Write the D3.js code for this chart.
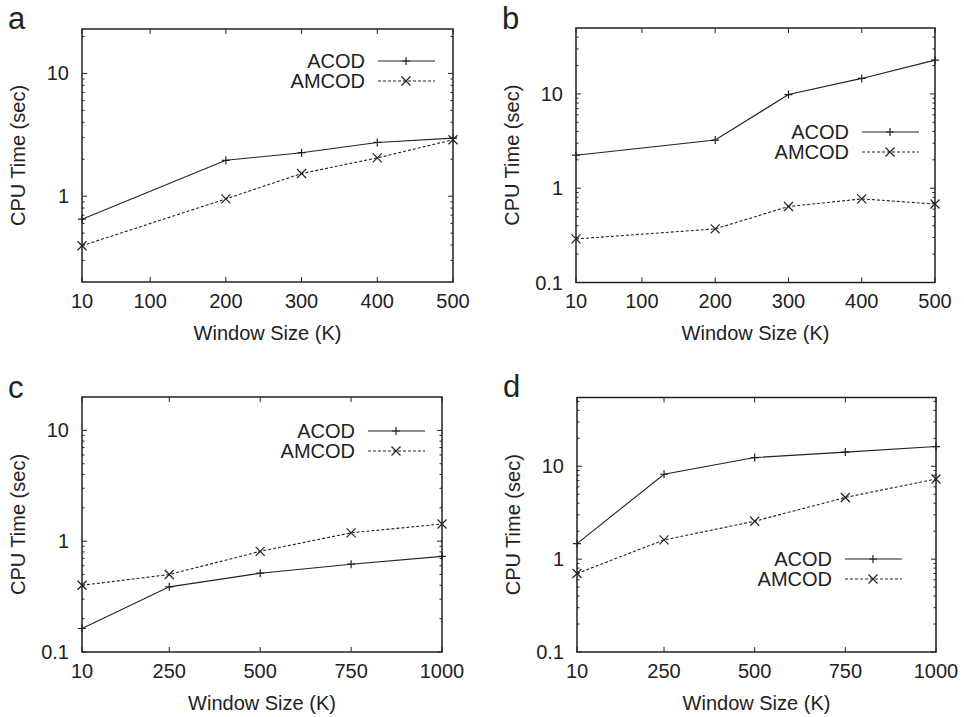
<!DOCTYPE html>
<html>
<head>
<meta charset="utf-8">
<script src="https://cdn.jsdelivr.net/npm/d3@7"></script>
<style>
  html, body { margin: 0; padding: 0; background: #fff; }
  svg text { font-family: "Liberation Sans", Arial, sans-serif; fill: #222; }
</style>
</head>
<body>
<div id="chart"></div>
<script>
// window sizes (K)
const sizesSmall = [10, 200, 300, 400, 500]
const sizesLarge = [10, 250, 500, 750, 1000]
const ticksSmall = [10, 100, 200, 300, 400, 500]
const ticksLarge = [10, 250, 500, 750, 1000]

// CPU time (sec)
const acodA = [0.65, 1.96, 2.26, 2.74, 2.97]
const amcodA = [0.395, 0.95, 1.53, 2.05, 2.88]
const acodB = [2.24, 3.24, 9.84, 14.6, 22.8]
const amcodB = [0.29, 0.37, 0.64, 0.77, 0.68]
const acodC = [0.163, 0.387, 0.514, 0.62, 0.73]
const amcodC = [0.40, 0.50, 0.81, 1.19, 1.43]
const acodD = [1.47, 8.2, 12.4, 14.2, 16.3]
const amcodD = [0.70, 1.61, 2.56, 4.61, 7.29]

const seriesNames = ['ACOD', 'AMCOD']
const panelLetters = ['a', 'b', 'c', 'd']
const yDomains = [[0.2, 23], [0.1, 50], [0.1, 20], [0.1, 55]]
const yLabels = [[1, 10], [0.1, 1, 10], [0.1, 1, 10], [0.1, 1, 10]]

// layout for each panel (plot box + legend spot)
const layout = [
  { x0: 82, x1: 453, y0: 29, y1: 282, legX: 365, legY: 61, letterY: 28.5 },
  { x0: 576, x1: 935, y0: 28, y1: 282.5, legX: 849, legY: 132, letterY: 28.5 },
  { x0: 82, x1: 442, y0: 397, y1: 652, legX: 355, legY: 431, letterY: 397.5 },
  { x0: 577, x1: 936, y0: 397.5, y1: 652, legX: 832, legY: 559, letterY: 397 },
]

const panels = [
  { sizes: sizesSmall, ticks: ticksSmall, series: [acodA, amcodA] },
  { sizes: sizesSmall, ticks: ticksSmall, series: [acodB, amcodB] },
  { sizes: sizesLarge, ticks: ticksLarge, series: [acodC, amcodC] },
  { sizes: sizesLarge, ticks: ticksLarge, series: [acodD, amcodD] },
]

const width = 964
const height = 717
const ink = '#222'

const svg = d3.select('#chart').append('svg')
  .attr('width', width)
  .attr('height', height)

function drawMarker(g, kind, cx, cy) {
  const s = kind === 0 ? 4 : 4.5
  const path = kind === 0
    ? `M${cx - s},${cy}H${cx + s}M${cx},${cy - s}V${cy + s}`
    : `M${cx - s},${cy - s}L${cx + s},${cy + s}M${cx - s},${cy + s}L${cx + s},${cy - s}`
  g.append('path').attr('d', path).attr('stroke', ink).attr('stroke-width', 1.2).attr('fill', 'none')
}

function minorTicks(domain) {
  const out = []
  const lo = Math.floor(Math.log10(domain[0]))
  const hi = Math.ceil(Math.log10(domain[1]))
  for (let e = lo; e <= hi; e++) {
    for (let k = 2; k <= 9; k++) {
      const v = k * Math.pow(10, e)
      if (v > domain[0] * 1.001 && v < domain[1]) out.push(v)
    }
  }
  return out
}

panels.forEach((p, i) => {
  const L = layout[i]
  const g = svg.append('g')

  const x = d3.scaleLinear().domain([p.sizes[0], p.sizes[p.sizes.length - 1]]).range([L.x0, L.x1])
  const y = d3.scaleLog().domain(yDomains[i]).range([L.y1, L.y0])

  // panel letter
  g.append('text')
    .attr('x', L.x0 - 74)
    .attr('y', L.letterY)
    .attr('font-size', 31)
    .text(panelLetters[i])

  // ticks: majors on y, all x ticks, mirrored on the other side
  const majors = d3.range(-1, 2).map((e) => Math.pow(10, e)).filter((v) => v >= yDomains[i][0] && v <= yDomains[i][1])
  const tk = g.append('g').attr('stroke', ink).attr('stroke-width', 1)
  majors.forEach((v) => {
    tk.append('line').attr('x1', L.x0).attr('x2', L.x0 + 5).attr('y1', y(v)).attr('y2', y(v))
    tk.append('line').attr('x1', L.x1).attr('x2', L.x1 - 5).attr('y1', y(v)).attr('y2', y(v))
  })
  minorTicks(yDomains[i]).forEach((v) => {
    tk.append('line').attr('x1', L.x0).attr('x2', L.x0 + 2.5).attr('y1', y(v)).attr('y2', y(v))
    tk.append('line').attr('x1', L.x1).attr('x2', L.x1 - 2.5).attr('y1', y(v)).attr('y2', y(v))
  })
  p.ticks.forEach((v) => {
    tk.append('line').attr('x1', x(v)).attr('x2', x(v)).attr('y1', L.y1).attr('y2', L.y1 - 5)
    tk.append('line').attr('x1', x(v)).attr('x2', x(v)).attr('y1', L.y0).attr('y2', L.y0 + 5)
  })

  // tick labels
  yLabels[i].forEach((v) => {
    g.append('text')
      .attr('x', L.x0 - 13)
      .attr('y', y(v))
      .attr('dy', '0.35em')
      .attr('text-anchor', 'end')
      .attr('font-size', 20)
      .text(v)
  })
  p.ticks.forEach((v) => {
    g.append('text')
      .attr('x', x(v))
      .attr('y', L.y1 + 25.5)
      .attr('text-anchor', 'middle')
      .attr('font-size', 20)
      .text(v)
  })

  // axis titles
  g.append('text')
    .attr('x', (L.x0 + L.x1) / 2)
    .attr('y', L.y1 + 57.5)
    .attr('text-anchor', 'middle')
    .attr('font-size', 20)
    .text('Window Size (K)')
  g.append('text')
    .attr('transform', `translate(${L.x0 - 57},${(L.y0 + L.y1) / 2}) rotate(-90)`)
    .attr('text-anchor', 'middle')
    .attr('font-size', 20)
    .text('CPU Time (sec)')

  // series
  const line = d3.line().x((d) => x(d[0])).y((d) => y(d[1]))
  p.series.forEach((vals, s) => {
    const pts = p.sizes.map((sz, j) => [sz, vals[j]])
    g.append('path')
      .datum(pts)
      .attr('d', line)
      .attr('fill', 'none')
      .attr('stroke', ink)
      .attr('stroke-width', 1.1)
      .attr('stroke-dasharray', s === 1 ? '3,2' : null)
    pts.forEach((d) => drawMarker(g, s, x(d[0]), y(d[1])))
  })

  // legend
  seriesNames.forEach((name, s) => {
    const ly = L.legY + s * 20
    g.append('text')
      .attr('x', L.legX)
      .attr('y', ly)
      .attr('dy', '0.35em')
      .attr('text-anchor', 'end')
      .attr('font-size', 20)
      .text(name)
    g.append('line')
      .attr('x1', L.legX + 13)
      .attr('x2', L.legX + 70)
      .attr('y1', ly)
      .attr('y2', ly)
      .attr('stroke', ink)
      .attr('stroke-width', 1.1)
      .attr('stroke-dasharray', s === 1 ? '3,2' : null)
    drawMarker(g, s, L.legX + 41, ly)
  })

  // frame
  g.append('rect')
    .attr('x', L.x0)
    .attr('y', L.y0)
    .attr('width', L.x1 - L.x0)
    .attr('height', L.y1 - L.y0)
    .attr('fill', 'none')
    .attr('stroke', ink)
    .attr('stroke-width', 1.5)
})
</script>
</body>
</html>
